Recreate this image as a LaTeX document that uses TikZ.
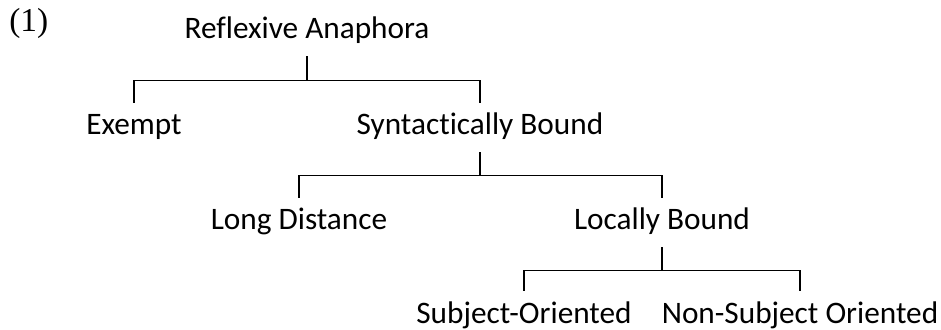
\documentclass[tikz,border=0pt]{standalone}
\usepackage{fontspec}
\setmainfont{Carlito}[Ligatures=NoCommon]
\newfontfamily\exfont{Liberation Serif}
\usepackage{tikz}

\tikzset{
	cat/.style={anchor=base, inner xsep=0pt, inner ysep=0.30cm, text height=0.34cm, text depth=0.04cm, font=\fontsize{17.8}{20}\selectfont},
	branch/.style={line width=0.6pt}
}

\begin{document}
\begin{tikzpicture}
	\useasboundingbox (0,0) rectangle (18.82,6.58);

	%example number
	\node[anchor=base west, inner sep=0pt, font=\exfont\fontsize{19}{22}\selectfont] (num) at (0.18, 5.94) {(1)};

	%categories
	\node[cat] (ra) at (6.14, 5.80) {Reflexive Anaphora};
	\node[cat] (ex) at (2.68, 3.88) {Exempt};
	\node[cat] (sb) at (9.60, 3.88) {Syntactically Bound};
	\node[cat] (ld) at (5.98, 1.98) {Long Distance};
	\node[cat] (lb) at (13.24, 1.98) {Locally Bound};
	\node[cat] (so) at (10.48, 0.12) {Subject-Oriented};
	\node[cat] (ns) at (16.00, 0.12) {Non-Subject Oriented};

	%branches
	\draw[branch] (ra.south) -- ++(0,-0.48) coordinate (b1);
	\draw[branch] (ex.north) |- (b1) -| (sb.north);
	\draw[branch] (sb.south) -- ++(0,-0.46) coordinate (b2);
	\draw[branch] (ld.north) |- (b2) -| (lb.north);
	\draw[branch] (lb.south) -- ++(0,-0.46) coordinate (b3);
	\draw[branch] (so.north) |- (b3) -| (ns.north);
\end{tikzpicture}
\end{document}
